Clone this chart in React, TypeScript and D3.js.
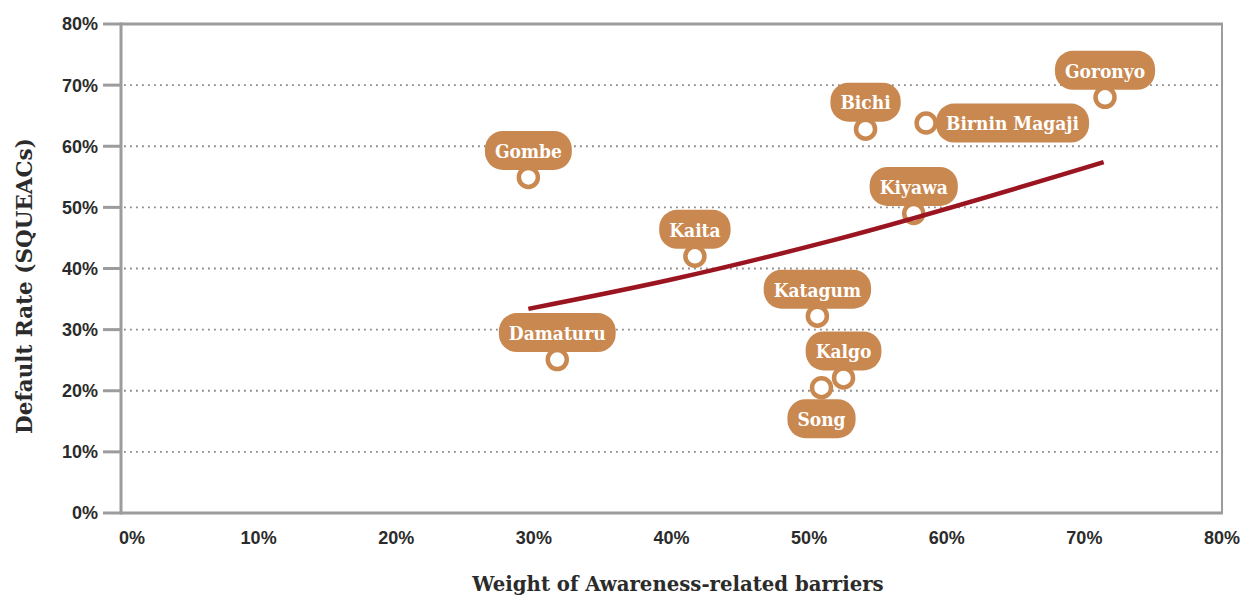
import React, { useEffect, useRef } from "react";
import * as d3 from "d3";

const sites = ["Gombe", "Damaturu", "Kaita", "Katagum", "Kalgo", "Song", "Bichi", "Birnin Magaji", "Kiyawa", "Goronyo"];
const awareness = [29.6, 31.7, 41.7, 50.6, 52.5, 50.9, 54.1, 58.5, 57.6, 71.5];
const defaultRate = [54.9, 25.1, 42.0, 32.2, 22.1, 20.5, 62.8, 63.8, 49.0, 68.0];
const labelSide = ["top", "top", "top", "top", "top", "bottom", "top", "right", "top", "top"];

const trendX = [29.6, 40, 51.7, 71.4];
const trendY = [33.4, 38.2, 44.6, 57.4];

const xTicks = [0, 10, 20, 30, 40, 50, 60, 70, 80];
const yTicks = [0, 10, 20, 30, 40, 50, 60, 70, 80];

const xTitle = "Weight of Awareness-related barriers";
const yTitle = "Default Rate (SQUEACs)";

const W = 1249;
const H = 597;
const L = 121, R = 1222, T = 24, B = 513;
const ORANGE = "#C98850";
const AXIS = "#9c9c9e";
const TEXT = "#2b2b2b";
const SLAB = "'DejaVu Serif', serif";
const SLAB_C = "'DejaVu Serif Condensed', 'DejaVu Serif', serif";
const SANS = "'Liberation Sans', Arial, sans-serif";

export default function App() {
  const ref = useRef<SVGSVGElement | null>(null);

  useEffect(() => {
    const svg = d3.select(ref.current);
    svg.selectAll("*").remove();

    const x = d3.scaleLinear().domain([0, 80]).range([L, R]);
    const y = d3.scaleLinear().domain([0, 80]).range([B, T]);

    // gridlines
    const grid = svg.append("g");
    grid.selectAll("line").data(yTicks.filter(t => t > 0 && t < 80)).join("line")
      .attr("x1", L + 3).attr("x2", R)
      .attr("y1", d => y(d)).attr("y2", d => y(d))
      .attr("stroke", "#8a8a8a").attr("stroke-width", 1.8)
      .attr("stroke-dasharray", "1.8 4.2");

    // frame
    const frame = svg.append("g");
    frame.append("line").attr("x1", R).attr("x2", R).attr("y1", T).attr("y2", B)
      .attr("stroke", AXIS).attr("stroke-width", 2);
    frame.append("line").attr("x1", L).attr("x2", R + 1).attr("y1", T).attr("y2", T)
      .attr("stroke", AXIS).attr("stroke-width", 3);
    frame.append("line").attr("x1", L).attr("x2", R + 1).attr("y1", B).attr("y2", B)
      .attr("stroke", AXIS).attr("stroke-width", 3);
    frame.append("line").attr("x1", L).attr("x2", L).attr("y1", T - 1.5).attr("y2", B + 1.5)
      .attr("stroke", AXIS).attr("stroke-width", 3);
    frame.selectAll(".tick").data(yTicks).join("line")
      .attr("x1", L - 18).attr("x2", L)
      .attr("y1", d => y(d)).attr("y2", d => y(d))
      .attr("stroke", AXIS).attr("stroke-width", 3);

    // y tick labels
    svg.append("g").selectAll("text").data(yTicks).join("text")
      .attr("x", 98).attr("y", d => y(d)).attr("dy", "0.36em")
      .attr("text-anchor", "end")
      .attr("font-family", SANS).attr("font-weight", "bold").attr("font-size", 18)
      .attr("fill", TEXT).text(d => `${d}%`);

    // x tick labels
    svg.append("g").selectAll("text").data(xTicks).join("text")
      .attr("x", d => (d === 0 ? x(d) - 2 : x(d)))
      .attr("y", 538).attr("dy", "0.36em")
      .attr("text-anchor", d => (d === 0 ? "start" : "middle"))
      .attr("font-family", SANS).attr("font-weight", "bold").attr("font-size", 18)
      .attr("fill", TEXT).text(d => `${d}%`);

    // axis titles
    svg.append("text").attr("x", 678).attr("y", 591)
      .attr("text-anchor", "middle")
      .attr("font-family", SLAB).attr("font-weight", "bold").attr("font-size", 19.7)
      .attr("fill", TEXT).text(xTitle);
    svg.append("text")
      .attr("transform", `translate(32, 286) rotate(-90)`)
      .attr("text-anchor", "middle")
      .attr("font-family", SLAB).attr("font-weight", "bold").attr("font-size", 21.5)
      .attr("fill", TEXT).text(yTitle);

    // labels + markers
    const pillH = 39;
    const gap = 27;
    const lab = svg.append("g");
    sites.forEach((name, i) => {
      const px = x(awareness[i]);
      const py = y(defaultRate[i]);
      const g = lab.append("g");
      const t = g.append("text")
        .attr("font-family", SLAB_C).attr("font-weight", "bold").attr("font-size", 19)
        .attr("fill", "#fff").attr("text-anchor", "middle").attr("dy", "0.36em")
        .text(name);
      const tw = (t.node() as SVGTextElement).getComputedTextLength();
      const pw = tw + 20;
      let cx = px, cy = py;
      if (labelSide[i] === "top") cy = py - gap;
      else if (labelSide[i] === "bottom") cy = py + gap + 4;
      else { cx = px + 10 + pw / 2; cy = py; }
      g.insert("rect", "text")
        .attr("x", cx - pw / 2).attr("y", cy - pillH / 2)
        .attr("width", pw).attr("height", pillH)
        .attr("rx", 18).attr("ry", 18)
        .attr("fill", ORANGE);
      t.attr("x", cx).attr("y", cy + 0.5);
      g.append("circle").attr("cx", px).attr("cy", py).attr("r", 9.5)
        .attr("fill", "#fff").attr("stroke", ORANGE).attr("stroke-width", 4.5);
    });

    // trend line
    const line = d3.line<number>()
      .x((_, i) => x(trendX[i]))
      .y(d => y(d))
      .curve(d3.curveMonotoneX);
    svg.append("path").datum(trendY)
      .attr("d", line)
      .attr("fill", "none").attr("stroke", "#9b1521").attr("stroke-width", 4.5);
  }, []);

  return (
    <svg
      ref={ref}
      width={W}
      height={H}
      style={{ position: "absolute", left: 0, top: 0, background: "#fff" }}
    />
  );
}
